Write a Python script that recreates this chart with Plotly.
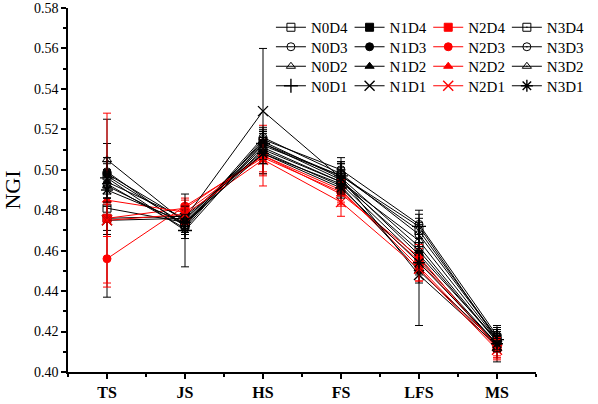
import plotly.graph_objects as go

categories = ["TS", "JS", "HS", "FS", "LFS", "MS"]
y_ticks = [0.40, 0.42, 0.44, 0.46, 0.48, 0.50, 0.52, 0.54, 0.56, 0.58]

# mean NGI values per growth stage
N0D4 = [0.481, 0.474, 0.512, 0.497, 0.470, 0.417]
N1D4 = [0.476, 0.477, 0.508, 0.493, 0.456, 0.414]
N2D4 = [0.476, 0.481, 0.507, 0.490, 0.452, 0.412]
N3D4 = [0.497, 0.473, 0.514, 0.496, 0.462, 0.415]
N0D3 = [0.493, 0.471, 0.515, 0.500, 0.473, 0.418]
N1D3 = [0.498, 0.475, 0.513, 0.495, 0.458, 0.416]
N2D3 = [0.456, 0.482, 0.506, 0.489, 0.455, 0.413]
N3D3 = [0.499, 0.472, 0.516, 0.498, 0.468, 0.417]
N0D2 = [0.505, 0.474, 0.511, 0.494, 0.465, 0.416]
N1D2 = [0.494, 0.476, 0.509, 0.492, 0.450, 0.414]
N2D2 = [0.485, 0.479, 0.507, 0.488, 0.457, 0.412]
N3D2 = [0.492, 0.473, 0.510, 0.494, 0.460, 0.415]
N0D1 = [0.496, 0.470, 0.513, 0.497, 0.472, 0.416]
N1D1 = [0.475, 0.476, 0.529, 0.496, 0.448, 0.413]
N2D1 = [0.475, 0.478, 0.505, 0.484, 0.451, 0.411]
N3D1 = [0.490, 0.474, 0.508, 0.491, 0.454, 0.414]

# standard deviations (error bars)
N0D4_err = [0.044, 0.005, 0.006, 0.006, 0.006, 0.005]
N1D4_err = [0.006, 0.004, 0.005, 0.005, 0.006, 0.004]
N2D4_err = [0.008, 0.004, 0.015, 0.006, 0.007, 0.005]
N3D4_err = [0.006, 0.004, 0.005, 0.005, 0.006, 0.004]
N0D3_err = [0.007, 0.005, 0.005, 0.006, 0.007, 0.005]
N1D3_err = [0.006, 0.004, 0.006, 0.005, 0.006, 0.004]
N2D3_err = [0.012, 0.004, 0.008, 0.006, 0.006, 0.005]
N3D3_err = [0.007, 0.004, 0.005, 0.005, 0.006, 0.004]
N0D2_err = [0.008, 0.005, 0.005, 0.006, 0.007, 0.005]
N1D2_err = [0.006, 0.004, 0.005, 0.005, 0.006, 0.004]
N2D2_err = [0.043, 0.004, 0.008, 0.006, 0.006, 0.005]
N3D2_err = [0.006, 0.004, 0.005, 0.005, 0.006, 0.004]
N0D1_err = [0.010, 0.018, 0.006, 0.007, 0.006, 0.005]
N1D1_err = [0.007, 0.006, 0.031, 0.008, 0.025, 0.008]
N2D1_err = [0.008, 0.005, 0.008, 0.007, 0.006, 0.005]
N3D1_err = [0.006, 0.004, 0.005, 0.005, 0.006, 0.004]

series = [
    ("N0D4", N0D4, N0D4_err, "square-open", "black"),
    ("N1D4", N1D4, N1D4_err, "square", "black"),
    ("N2D4", N2D4, N2D4_err, "square", "#ff0000"),
    ("N3D4", N3D4, N3D4_err, "square-open-dot", "black"),
    ("N0D3", N0D3, N0D3_err, "circle-open", "black"),
    ("N1D3", N1D3, N1D3_err, "circle", "black"),
    ("N2D3", N2D3, N2D3_err, "circle", "#ff0000"),
    ("N3D3", N3D3, N3D3_err, "circle-open-dot", "black"),
    ("N0D2", N0D2, N0D2_err, "triangle-up-open", "black"),
    ("N1D2", N1D2, N1D2_err, "triangle-up", "black"),
    ("N2D2", N2D2, N2D2_err, "triangle-up", "#ff0000"),
    ("N3D2", N3D2, N3D2_err, "triangle-up-open-dot", "black"),
    ("N0D1", N0D1, N0D1_err, "cross-thin-open", "black"),
    ("N1D1", N1D1, N1D1_err, "x-thin-open", "black"),
    ("N2D1", N2D1, N2D1_err, "x-thin-open", "#ff0000"),
    ("N3D1", N3D1, N3D1_err, "asterisk-open", "black"),
]

W, H = 598, 404
ML, MR, MT, MB = 68, 48, 8, 32
PW, PH = W - ML - MR, H - MT - MB

xpos = list(range(len(categories)))
fig = go.Figure()
legend_layout = {}
col_left = [277, 358, 439, 520]
row_center = [26, 45.5, 65, 84.5]
for i, (name, vals, err, sym, col) in enumerate(series):
    thin = "thin" in sym or "asterisk" in sym
    lid = "legend" if i == 0 else f"legend{i+1}"
    fig.add_trace(go.Scatter(
        x=xpos, y=vals, name=name, mode="lines+markers",
        line=dict(color=col, width=1),
        marker=dict(symbol=sym, size=10 if thin else 8, color=col,
                    line=dict(color=col, width=1.4 if thin else 1)),
        error_y=dict(type="data", array=err, color=col, thickness=1, width=4),
        legend=lid,
    ))
    r, c = divmod(i, 4)
    legend_layout[lid] = dict(
        x=(col_left[c] - ML) / PW, xanchor="left",
        y=1 - (row_center[r] - 15 - MT) / PH, yanchor="top",
        bgcolor="rgba(0,0,0,0)", borderwidth=0,
        font=dict(family="Liberation Serif", size=15, color="black"),
    )

fig.update_layout(
    width=W, height=H,
    margin=dict(l=ML, r=MR, t=MT, b=MB),
    paper_bgcolor="white", plot_bgcolor="white",
    showlegend=True,
    font=dict(family="Liberation Serif", color="black"),
    xaxis=dict(
        range=[-0.5, len(categories) - 0.5], automargin=False,
        tickmode="array", tickvals=xpos, ticktext=categories,
        showline=True, linecolor="black", linewidth=1.5,
        ticks="outside", ticklen=5, tickwidth=1.5, tickcolor="black",
        minor=dict(ticks="outside", tick0=0.5, dtick=1, ticklen=3, tickwidth=1.5, tickcolor="black"),
        showgrid=False, zeroline=False,
        tickfont=dict(family="Liberation Serif", size=16, weight="bold", color="black"),
    ),
    yaxis=dict(
        range=[y_ticks[0], y_ticks[-1]], automargin=False,
        tickmode="array", tickvals=y_ticks, tickformat=".2f",
        showline=True, linecolor="black", linewidth=1.5,
        ticks="outside", ticklen=5, tickwidth=1.5, tickcolor="black",
        minor=dict(ticks="outside", dtick=0.01, tick0=0.40, ticklen=3, tickwidth=1.5, tickcolor="black"),
        showgrid=False, zeroline=False,
        tickfont=dict(family="Liberation Serif", size=14, color="black"),
        title=dict(text="NGI", font=dict(family="Liberation Serif", size=22, color="black"), standoff=10),
    ),
    **legend_layout,
)

fig.write_html("out.html", config={"displayModeBar": False},
               post_script="document.body.style.margin='0';")
